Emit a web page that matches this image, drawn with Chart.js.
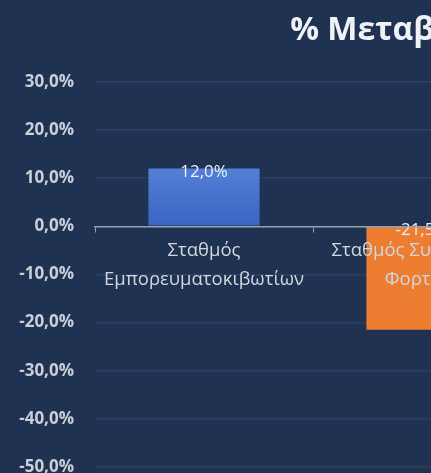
<!DOCTYPE html>
<html><head><meta charset="utf-8">
<script src="https://cdn.jsdelivr.net/npm/chart.js@4/dist/chart.umd.min.js"></script>
<style>
html,body{margin:0;padding:0;background:#1f3252;overflow:hidden;}
#wrap{width:780px;height:500px;position:relative;}
</style></head><body>
<div id="wrap"><canvas id="c"></canvas></div>
<script>
// Data (the third category lies outside the visible crop)
const titleText = '% Μεταβολή';
const categories = [['Σταθμός', 'Εμπορευματοκιβωτίων'], ['Σταθμός Συμβατικού', 'Φορτίου'], ''];
const changePct = [12.0, -21.5, null];
const yMin = -50, yMax = 30, yStep = 10;

const fmt = v => v.toFixed(1).replace('.', ',') + '%';
const FONT = '"Open Sans", "DejaVu Sans", sans-serif';

const barLabels = {
  id: 'barLabels',
  afterDatasetsDraw(chart) {
    const ctx = chart.ctx;
    const meta = chart.getDatasetMeta(0);
    ctx.save();
    ctx.font = '17px ' + FONT;
    ctx.fillStyle = '#eef1f6';
    ctx.textAlign = 'center';
    ctx.textBaseline = 'middle';
    meta.data.forEach((bar, i) => {
      const v = changePct[i];
      if (v == null) return;
      const top = Math.min(bar.y, bar.base);
      ctx.fillText(fmt(v), bar.x, top + 3.5);
    });
    ctx.restore();
  }
};

new Chart(document.getElementById('c'), {
  type: 'bar',
  data: {
    labels: categories,
    datasets: [{
      data: changePct,
      backgroundColor: (c) => {
        if (c.dataIndex === 1) return '#ED7D31';
        const chart = c.chart;
        const ys = chart.scales.y;
        const v = changePct[c.dataIndex] || 0;
        const y0 = ys ? ys.getPixelForValue(v) : NaN;
        const y1 = ys ? ys.getPixelForValue(0) : NaN;
        if (!isFinite(y0) || !isFinite(y1) || y0 === y1) return '#4472C4';
        const g = chart.ctx.createLinearGradient(0, y0, 0, y1);
        g.addColorStop(0, '#537fd7');
        g.addColorStop(1, '#3a65c2');
        return g;
      },
      borderWidth: 0,
      categoryPercentage: 1,
      barPercentage: 0.51
    }]
  },
  options: {
    responsive: true,
    maintainAspectRatio: false,
    animation: false,
    layout: { padding: { left: 17, right: 12, top: 0, bottom: 33 } },
    plugins: {
      legend: { display: false },
      tooltip: { enabled: false },
      title: {
        display: true,
        text: titleText,
        color: '#eef1f5',
        font: { family: FONT, size: 32, weight: 'bold' },
        padding: { top: 11.5, bottom: 32 }
      }
    },
    scales: {
      y: {
        min: yMin, max: yMax,
        afterFit: s => { s.width = 78; },
        ticks: {
          stepSize: yStep,
          callback: v => fmt(v),
          color: '#c9ced8',
          font: { family: FONT, size: 17, weight: 'bold' },
          padding: 21
        },
        grid: { color: '#2c4062', lineWidth: 1.5, drawTicks: false },
        border: { display: false }
      },
      // empty right-hand spacer (no ticks, grid or border) so the title sits where it does in the reference
      yRight: {
        position: 'right',
        min: yMin, max: yMax,
        afterFit: s => { s.width = 19; },
        ticks: { display: false },
        grid: { display: false },
        border: { display: false }
      },
      x: {
        position: { y: 0 },
        z: 1,
        ticks: {
          z: 1,
          color: '#d3d7df',
          font: { family: FONT, size: 18.5, lineHeight: 1.55 },
          padding: 5,
          maxRotation: 0,
          autoSkip: false
        },
        grid: { display: true, drawOnChartArea: false, drawTicks: true, tickLength: 5, color: '#97a0b0', offset: true },
        border: { display: true, color: '#97a0b0', width: 1.5, z: 1 }
      }
    }
  },
  plugins: [barLabels]
});
</script>
</body></html>
